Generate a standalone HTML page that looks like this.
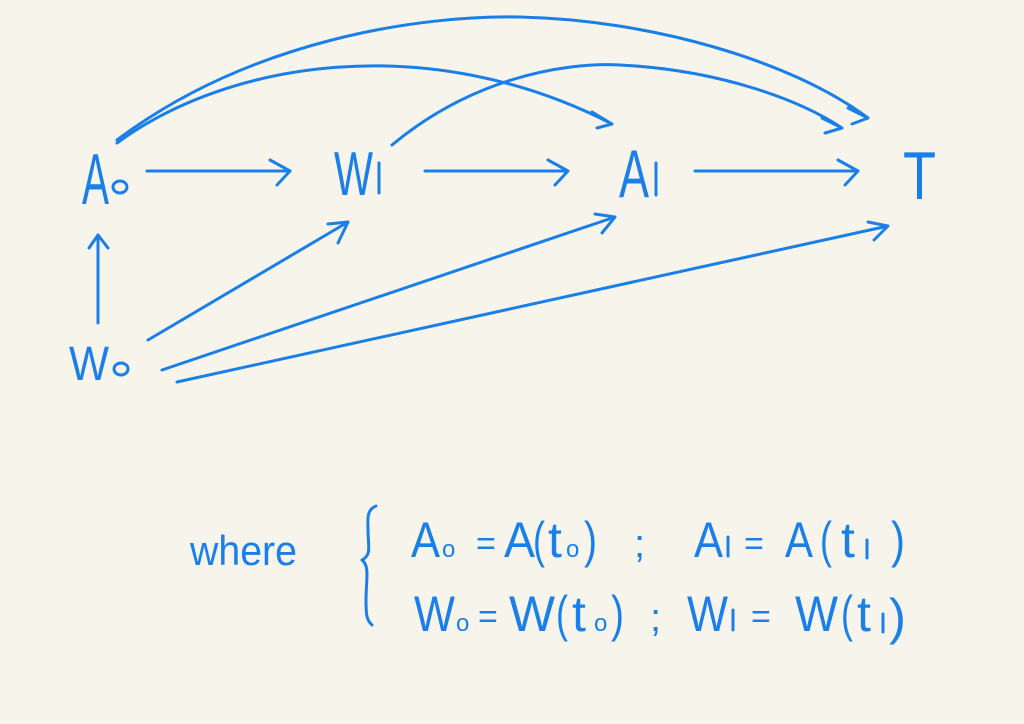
<!DOCTYPE html>
<html><head><style>
html,body{margin:0;padding:0;background:#f7f5eb;}
svg{display:block}
text{font-family:"Liberation Sans",sans-serif;fill:#1a7fe8;}
</style></head><body>
<svg width="1024" height="724" viewBox="0 0 1024 724" xmlns="http://www.w3.org/2000/svg">
<rect width="1024" height="724" fill="#f7f5eb"/>
<g fill="none" stroke="#1a7fe8" stroke-width="3" stroke-linecap="round" stroke-linejoin="round">
<path d="M147 171 L290 171 M270 160 L290 171 L277 185"/>
<path d="M425 171 L568 171 M548 160 L568 171 L555 185"/>
<path d="M695 171 L858 171 M838 160 L858 171 L845 185"/>
<path d="M98 323 L98 235 M89 248 L98 235 L108 248"/>
<path d="M148 340 L348 222 M328 224 L348 222 L338 243"/>
<path d="M162 370 L615 217 M595 214 L615 217 L602 233"/>
<path d="M177 382 L888 226 M868 222 L888 226 L874 240"/>
<path d="M117 143 C230 60 430 30 612 124 M592 112 L612 124 L597 128"/>
<path d="M117 140 C250 40 420 15 520 17 C650 20 790 60 868 118 M848 108 L868 118 L852 124"/>
<path d="M392 145 C470 80 560 62 620 65 C720 70 800 100 842 128 M822 118 L842 128 L825 133"/>
<path d="M376 506 C366 510 368 520 368 530 C368 545 372 555 362 560 C370 566 366 580 366 600 C366 612 366 620 372 625"/>
<ellipse cx="120" cy="187" rx="7" ry="6"/>
<ellipse cx="121" cy="369" rx="7" ry="6"/>
<path d="M379 163 L379 193"/>
<path d="M656 163 L656 195"/>
</g>
<g>
<text x="82" y="204" font-size="72" textLength="27" lengthAdjust="spacingAndGlyphs">A</text>
<text x="334" y="195" font-size="62" textLength="39" lengthAdjust="spacingAndGlyphs">W</text>
<text x="619" y="197" font-size="68" textLength="30" lengthAdjust="spacingAndGlyphs">A</text>
<text x="903" y="199" font-size="68" textLength="33" lengthAdjust="spacingAndGlyphs">T</text>
<text x="69" y="380" font-size="48" textLength="40" lengthAdjust="spacingAndGlyphs">W</text>
</g>
<g font-size="50">
<text x="190" y="565" font-size="42" textLength="107" lengthAdjust="spacingAndGlyphs">where</text>
<text x="411" y="557" textLength="29" lengthAdjust="spacingAndGlyphs">A</text><text x="442" y="557" font-size="24">o</text>
<text x="476" y="555" font-size="34">=</text>
<text x="504" y="557" textLength="31" lengthAdjust="spacingAndGlyphs">A</text>
<text x="533" y="557" textLength="12" lengthAdjust="spacingAndGlyphs">(</text>
<text x="548" y="557">t</text>
<text x="566" y="557" font-size="24">o</text>
<text x="584" y="557" textLength="13" lengthAdjust="spacingAndGlyphs">)</text>
<text x="634" y="557" font-size="40">;</text>
<text x="694" y="557" textLength="29" lengthAdjust="spacingAndGlyphs">A</text>
<text x="744" y="555" font-size="34">=</text>
<text x="785" y="557" textLength="28" lengthAdjust="spacingAndGlyphs">A</text>
<text x="820" y="557" textLength="12" lengthAdjust="spacingAndGlyphs">(</text>
<text x="841" y="557">t</text>
<text x="891" y="557" textLength="14" lengthAdjust="spacingAndGlyphs">)</text>
<text x="414" y="631" textLength="41" lengthAdjust="spacingAndGlyphs">W</text><text x="456" y="631" font-size="24">o</text>
<text x="478" y="628" font-size="34">=</text>
<text x="509" y="631" textLength="46" lengthAdjust="spacingAndGlyphs">W</text>
<text x="556" y="631" textLength="12" lengthAdjust="spacingAndGlyphs">(</text>
<text x="572" y="631">t</text>
<text x="594" y="631" font-size="24">o</text>
<text x="611" y="631" textLength="13" lengthAdjust="spacingAndGlyphs">)</text>
<text x="650" y="631" font-size="40">;</text>
<text x="687" y="631" textLength="41" lengthAdjust="spacingAndGlyphs">W</text>
<text x="751" y="628" font-size="34">=</text>
<text x="795" y="631" textLength="43" lengthAdjust="spacingAndGlyphs">W</text>
<text x="841" y="631" textLength="12" lengthAdjust="spacingAndGlyphs">(</text>
<text x="857" y="631">t</text>
<text x="889" y="634" textLength="17" lengthAdjust="spacingAndGlyphs">)</text>
</g>
<g fill="none" stroke="#1a7fe8" stroke-width="3" stroke-linecap="round">
<path d="M728 537 L728 556"/>
<path d="M867 540 L867 558"/>
<path d="M733 610 L733 630"/>
<path d="M883 614 L883 632"/>
</g>
</svg>
</body></html>
